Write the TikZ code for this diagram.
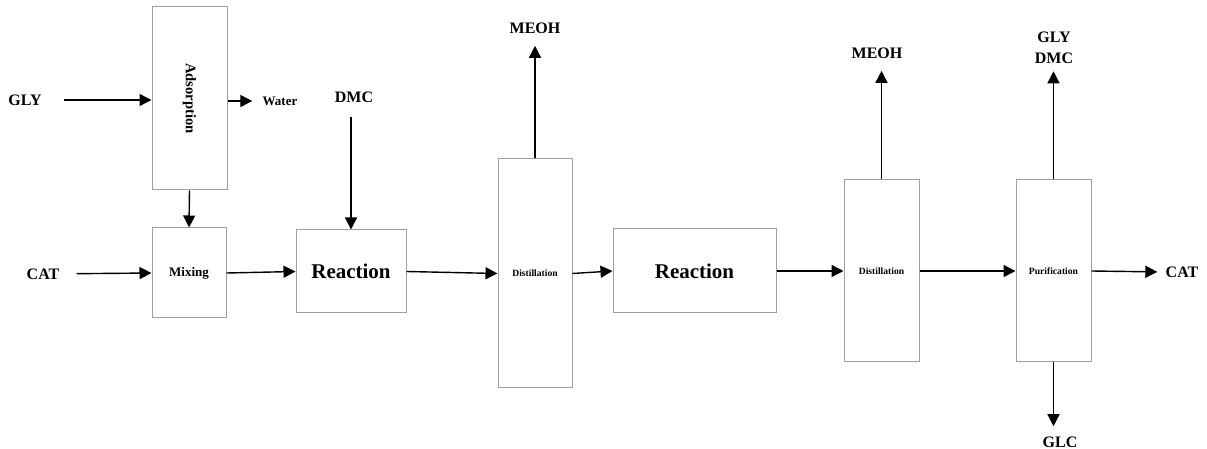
\documentclass[tikz,border=0pt]{standalone}
\usepackage{graphicx}
\usepackage{fontspec}
\setmainfont{Liberation Serif}
\usetikzlibrary{arrows.meta}

\begin{document}
\begin{tikzpicture}[x=0.5pt,y=-0.5pt,
  unit/.style={draw=gray!75,line width=0.5pt,inner sep=0pt,font=\bfseries},
  stream/.style={font=\bfseries\fontsize{8}{10.5}\selectfont,inner sep=0pt,align=center},
  flow/.style={-{Triangle[length=6pt,width=6pt]},line width=0.7pt}]
  \useasboundingbox (0,0) rectangle (1207,449);
  % process units
  \node[unit,minimum width=37.5pt,minimum height=91.5pt] (ads) at (189.5,98.5)
    {\rotatebox{-90}{\fontsize{7.3}{8}\selectfont Adsorption}};
  \node[unit,minimum width=37pt,minimum height=45pt,font=\bfseries\fontsize{6.5}{7}\selectfont] (mix) at (189,273) {Mixing};
  \node[unit,minimum width=55pt,minimum height=41.5pt,font=\bfseries\fontsize{10.5}{12}\selectfont] (reac1) at (351,271.5) {Reaction};
  \node[unit,minimum width=37pt,minimum height=114.5pt,font=\bfseries\fontsize{4.8}{5}\selectfont] (dist1) at (535,273.5) {Distillation};
  \node[unit,minimum width=81.5pt,minimum height=42pt,font=\bfseries\fontsize{10.5}{12}\selectfont] (reac2) at (694.5,271) {Reaction};
  \node[unit,minimum width=37.5pt,minimum height=91pt,font=\bfseries\fontsize{4.8}{5}\selectfont] (dist2) at (881.5,271) {Distillation};
  \node[unit,minimum width=37.5pt,minimum height=91pt,font=\bfseries\fontsize{4.8}{5}\selectfont] (purif) at (1053.5,271) {Purification};
  % feeds and products
  \node[stream] (gly) at (25,100) {GLY};
  \node[stream] (cat) at (43,274) {CAT};
  \node[stream,font=\bfseries\fontsize{6.5}{7}\selectfont] (water) at (280,101) {Water};
  \node[stream] (dmc) at (354,97) {DMC};
  \node[stream] (meoh1) at (535,28) {MEOH};
  \node[stream] (meoh2) at (877,53) {MEOH};
  \node[stream] (glydmc) at (1054,48) {GLY\\DMC};
  \node[stream] (catout) at (1182,272) {CAT};
  \node[stream] (glc) at (1060,442) {GLC};
  % connectors
  \draw[flow,shorten <=11pt] (gly) -- (ads.west |- gly);
  \draw[flow,shorten >=5pt] (ads.east |- water) -- (water.west);
  \draw[flow] (ads.south) -- (mix.north);
  \draw[flow,shorten <=8.5pt] (cat) -- (mix.west);
  \draw[flow] (mix.east) -- (reac1.west);
  \draw[flow,shorten <=7pt] (reac1.north |- dmc.south) -- (reac1.north);
  \draw[flow] (reac1.east) -- (dist1.west);
  \draw[flow,shorten >=6pt] (dist1.north) -- (meoh1.south);
  \draw[flow] (dist1.east) -- (reac2.west);
  \draw[flow] (reac2.east) -- (dist2.west);
  \draw[flow,shorten >=6pt] (dist2.north) -- (dist2.north |- meoh2.south);
  \draw[flow] (dist2.east) -- (purif.west);
  \draw[flow,shorten >=3.5pt] (purif.north) -- (purif.north |- glydmc.south);
  \draw[flow,shorten >=4pt] (purif.east) -- (catout.west);
  \draw[flow,shorten >=5pt] (purif.south) -- (purif.south |- glc.north);
\end{tikzpicture}
\end{document}
